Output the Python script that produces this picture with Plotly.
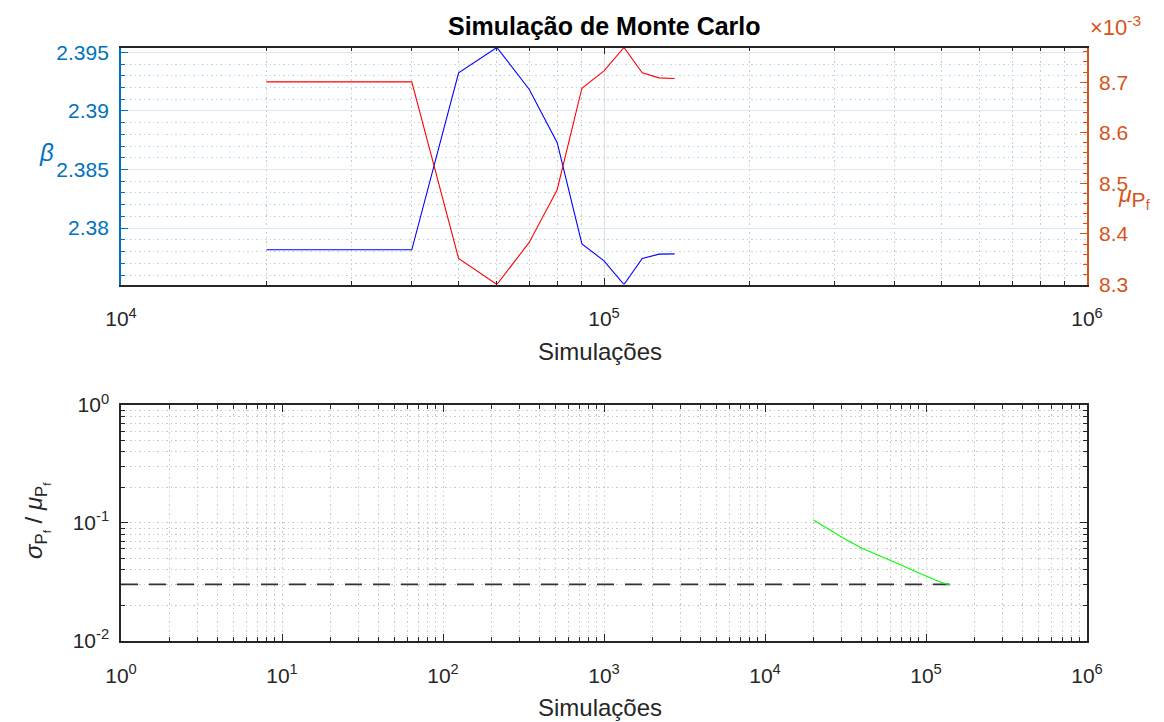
import numpy as np
import plotly.graph_objects as go

# ---------------- data ----------------
simulacoes = [20000, 30000, 40000, 50000, 60000, 70000, 80000, 90000,
              100000, 110000, 120000, 130000, 140000]
beta = [2.37815, 2.37815, 2.37815, 2.39325, 2.39541, 2.39185, 2.38729,
        2.37866, 2.37721, 2.37519, 2.37741, 2.37778, 2.37780]
mu_pf = [8.7006e-3, 8.7006e-3, 8.7006e-3, 8.3515e-3, 8.3000e-3, 8.3832e-3,
         8.4873e-3, 8.6880e-3, 8.7224e-3, 8.7685e-3, 8.7184e-3, 8.7085e-3,
         8.7071e-3]
cov_pf = [0.1057, 0.0754, 0.0608, 0.0535, 0.0484, 0.0439, 0.0403, 0.0375,
          0.0351, 0.0332, 0.0318, 0.0307, 0.0297]
alvo_x = [1, 140000]
alvo_cov = [0.03, 0.03]

beta_ticks = [2.38, 2.385, 2.39, 2.395]
beta_ticktext = ["2.38", "2.385", "2.39", "2.395"]
mu_ticks = [8.3e-3, 8.4e-3, 8.5e-3, 8.6e-3, 8.7e-3]
mu_ticktext = ["8.3", "8.4", "8.5", "8.6", "8.7"]
x_top_ticks = [1e4, 1e5, 1e6]
x_top_text = ["10<sup>4</sup>", "10<sup>5</sup>", "10<sup>6</sup>"]
x_bot_ticks = [1e0, 1e1, 1e2, 1e3, 1e4, 1e5, 1e6]
x_bot_text = ["10<sup>%d</sup>" % k for k in range(7)]
y_bot_ticks = [1e-2, 1e-1, 1e0]
y_bot_text = ["10<sup>-2</sup>", "10<sup>-1</sup>", "10<sup>0</sup>"]

# ---------------- style ----------------
W, H = 1164, 722
FONT = "Liberation Sans, Arial, sans-serif"
DARK = "#262626"
BLUE_AX = "#0072BD"
ORANGE_AX = "#D95319"
GRID_MAJ = "#DEDEDE"
GRID_MIN = "#CACACA"
BLUE_GRID_MAJ = "#D9EAF5"
BLUE_GRID_MIN = "#B8D8EF"
MIN_DASH = "1.5px,3px"
TICK_FS = 21
LAB_FS = 24
TITLE_FS = 25


def minor_log(lo, hi):
    vals = []
    for e in range(lo, hi):
        for d in range(2, 10):
            vals.append(d * 10.0 ** e)
    return vals


def minor_lin(lo, hi, step):
    n = int(round((hi - lo) / step))
    return [lo + k * step for k in range(n + 1)]


def px_x(p):
    return p / W


def px_y(p):
    return 1 - p / H


top_x_dom = [px_x(121), px_x(1087)]
top_y_dom = [px_y(284.5), px_y(47.5)]
bot_y_dom = [px_y(640.7), px_y(405)]

fig = go.Figure()

fig.add_trace(go.Scatter(x=simulacoes, y=beta, mode="lines",
                         line=dict(color="#0000FF", width=1.1),
                         xaxis="x", yaxis="y", showlegend=False))
fig.add_trace(go.Scatter(x=simulacoes, y=mu_pf, mode="lines",
                         line=dict(color="#FF0000", width=1.1),
                         xaxis="x", yaxis="y2", showlegend=False))
fig.add_trace(go.Scatter(x=alvo_x, y=alvo_cov, mode="lines",
                         line=dict(color="#333333", width=1.7, dash="17px,11px"),
                         xaxis="x2", yaxis="y3", showlegend=False))
fig.add_trace(go.Scatter(x=simulacoes, y=cov_pf, mode="lines",
                         line=dict(color="#00FF00", width=1.1),
                         xaxis="x2", yaxis="y3", showlegend=False))

tickfont = dict(family=FONT, size=TICK_FS, color=DARK)

fig.update_layout(
    template="none",
    width=W, height=H,
    margin=dict(l=0, r=0, t=0, b=0, autoexpand=False),
    paper_bgcolor="white", plot_bgcolor="white",
    font=dict(family=FONT, color=DARK),
    xaxis=dict(
        domain=top_x_dom, anchor="y", type="log", range=[4, 6],
        automargin=False,
        tickmode="array", tickvals=x_top_ticks, ticktext=x_top_text,
        tickfont=tickfont, ticks="inside", ticklen=7, tickcolor=DARK,
        tickwidth=1.2,
        showline=True, linecolor=DARK, linewidth=1.5, mirror="ticks",
        showgrid=True, gridcolor=GRID_MAJ, gridwidth=1,
        minor=dict(tickmode="array", tickvals=minor_log(4, 6),
                   ticks="inside", ticklen=4, tickcolor=DARK,
                   showgrid=True, gridcolor=GRID_MIN, griddash=MIN_DASH),
        zeroline=False, ticklabelstandoff=15,
    ),
    yaxis=dict(
        domain=top_y_dom, anchor="x", range=[min(beta), max(beta)],
        automargin=False,
        tickmode="array", tickvals=beta_ticks, ticktext=beta_ticktext,
        tickfont=dict(family=FONT, size=TICK_FS, color=BLUE_AX),
        ticks="inside", ticklen=7, tickcolor=BLUE_AX, tickwidth=1.2,
        showline=True, linecolor=BLUE_AX, linewidth=1.8, mirror=False,
        showgrid=True, gridcolor=BLUE_GRID_MAJ,
        minor=dict(tickmode="array", tickvals=minor_lin(2.376, 2.395, 0.001),
                   ticks="inside", ticklen=4,
                   tickcolor=BLUE_AX, showgrid=True,
                   gridcolor=BLUE_GRID_MIN, griddash=MIN_DASH),
        zeroline=False, ticklabelstandoff=6,
    ),
    yaxis2=dict(
        overlaying="y", side="right", anchor="x",
        range=[min(mu_pf), max(mu_pf)], automargin=False,
        tickmode="array", tickvals=mu_ticks, ticktext=mu_ticktext,
        tickfont=dict(family=FONT, size=TICK_FS, color=ORANGE_AX),
        ticks="inside", ticklen=7, tickcolor=ORANGE_AX, tickwidth=1.2,
        showline=True, linecolor=ORANGE_AX, linewidth=1.8,
        showgrid=False,
        minor=dict(tickmode="array", tickvals=minor_lin(8.3e-3, 8.76e-3, 0.02e-3),
                   ticks="inside", ticklen=4,
                   tickcolor=ORANGE_AX, showgrid=False),
        zeroline=False, ticklabelstandoff=6,
    ),
    xaxis2=dict(
        domain=top_x_dom, anchor="y3", type="log", range=[0, 6],
        automargin=False,
        tickmode="array", tickvals=x_bot_ticks, ticktext=x_bot_text,
        tickfont=tickfont, ticks="inside", ticklen=7, tickcolor=DARK,
        tickwidth=1.2,
        showline=True, linecolor=DARK, linewidth=1.5, mirror="ticks",
        showgrid=True, gridcolor=GRID_MIN, griddash=MIN_DASH,
        minor=dict(tickmode="array", tickvals=minor_log(0, 6),
                   ticks="inside", ticklen=4, tickcolor=DARK,
                   showgrid=True, gridcolor=GRID_MIN, griddash=MIN_DASH),
        zeroline=False, ticklabelstandoff=15,
    ),
    yaxis3=dict(
        domain=bot_y_dom, anchor="x2", type="log", range=[-2, 0],
        automargin=False,
        tickmode="array", tickvals=y_bot_ticks, ticktext=y_bot_text,
        tickfont=tickfont, ticks="inside", ticklen=7, tickcolor=DARK,
        tickwidth=1.2,
        showline=True, linecolor=DARK, linewidth=1.5, mirror="ticks",
        showgrid=True, gridcolor=GRID_MIN, griddash=MIN_DASH,
        minor=dict(tickmode="array", tickvals=minor_log(-2, 0),
                   ticks="inside", ticklen=4, tickcolor=DARK,
                   showgrid=True, gridcolor=GRID_MIN, griddash=MIN_DASH),
        zeroline=False, ticklabelstandoff=6,
    ),
)

mu_label = ("<i>μ</i><sub><span style='font-size:21px'>P</span>"
            "<sub><span style='font-size:14px'>f</span></sub></sub>")
cov_label = ("<i>σ</i><sub>P<sub>f</sub></sub> / "
             "<i>μ</i><sub>P<sub>f</sub></sub>")

ann = []
ann.append(dict(text="<b>Simulação de Monte Carlo</b>", x=px_x(604), y=px_y(26),
                xref="paper", yref="paper", xanchor="center", yanchor="middle",
                showarrow=False, font=dict(family=FONT, size=TITLE_FS, color="#000000")))
ann.append(dict(text="Simulações", x=px_x(600), y=px_y(351),
                xref="paper", yref="paper", xanchor="center", yanchor="middle",
                showarrow=False, font=dict(family=FONT, size=LAB_FS, color=DARK)))
ann.append(dict(text="Simulações", x=px_x(600), y=px_y(707),
                xref="paper", yref="paper", xanchor="center", yanchor="middle",
                showarrow=False, font=dict(family=FONT, size=LAB_FS, color=DARK)))
ann.append(dict(text="<i>β</i>", x=px_x(46), y=px_y(152),
                xref="paper", yref="paper", xanchor="center", yanchor="middle",
                showarrow=False, font=dict(family=FONT, size=LAB_FS, color=BLUE_AX)))
ann.append(dict(text=mu_label, x=px_x(1116), y=px_y(197),
                xref="paper", yref="paper", xanchor="left", yanchor="middle",
                showarrow=False, font=dict(family=FONT, size=23, color=ORANGE_AX)))
ann.append(dict(text="×10<sup>-3</sup>", x=px_x(1088), y=px_y(26),
                xref="paper", yref="paper", xanchor="left", yanchor="middle",
                showarrow=False, font=dict(family=FONT, size=22, color=ORANGE_AX)))
ann.append(dict(text=cov_label,
                x=px_x(36), y=px_y(521), textangle=-90,
                xref="paper", yref="paper", xanchor="center", yanchor="middle",
                showarrow=False, font=dict(family=FONT, size=LAB_FS, color=DARK)))
fig.update_layout(annotations=ann)

fig.write_html("out.html")
